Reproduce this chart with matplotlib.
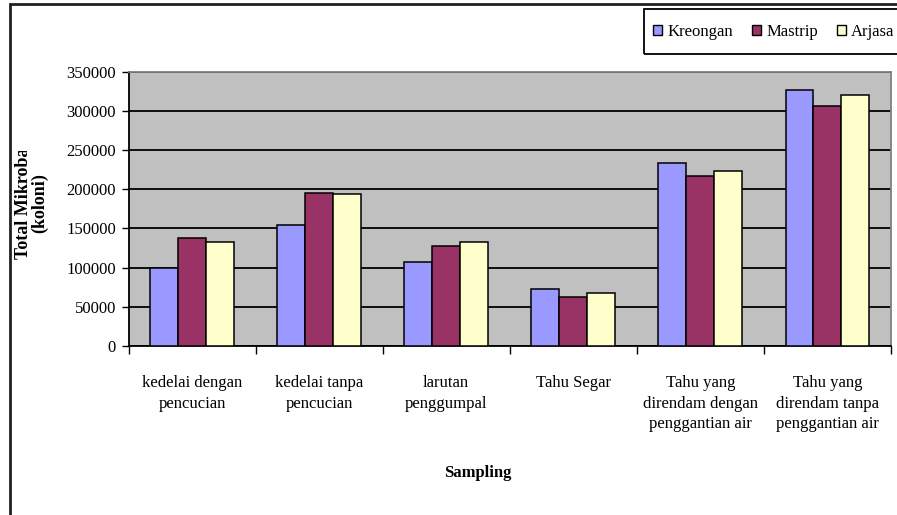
import numpy as np
import matplotlib.pyplot as plt
from matplotlib.patches import Rectangle, Patch
from matplotlib.transforms import Bbox

plt.rcParams["font.family"] = "Liberation Serif"

# Data
categories = [
    "kedelai dengan\npencucian",
    "kedelai tanpa\npencucian",
    "larutan\npenggumpal",
    "Tahu Segar",
    "Tahu yang\ndirendam dengan\npenggantian air",
    "Tahu yang\ndirendam tanpa\npenggantian air",
]
series = ["Kreongan", "Mastrip", "Arjasa"]
kreongan = [100000, 154000, 107000, 73000, 233000, 326000]
mastrip = [138000, 195000, 127000, 63000, 217000, 306000]
arjasa = [133000, 193500, 133000, 67000, 223000, 320000]
yticks = [0, 50000, 100000, 150000, 200000, 250000, 300000, 350000]

colors = ["#9999FF", "#993366", "#FFFFCC"]

W, H = 897, 515
fig = plt.figure(figsize=(W / 100, H / 100), dpi=100)

# plot area in pixel coordinates
left, right, top, bottom = 128.5, 891, 71.5, 346
ax = fig.add_axes([left / W, 1 - bottom / H, (right - left) / W, (bottom - top) / H])
ax.set_facecolor("#C0C0C0")

x = np.arange(len(categories))
bw = 0.22
for i, (vals, c) in enumerate(zip([kreongan, mastrip, arjasa], colors)):
    ax.bar(x + (i - 1) * bw, vals, bw, color=c, edgecolor="black", linewidth=1.1, zorder=3)

ax.set_xlim(-0.5, len(categories) - 0.5)
ax.set_ylim(0, 350000)
ax.set_yticks(yticks)
ax.set_yticklabels([str(v) for v in yticks], fontsize=12)
ax.yaxis.grid(True, color="black", linewidth=1.3, zorder=1)
ax.set_axisbelow(True)

ax.set_xticks(x)
ax.set_xticklabels(categories, fontsize=12, linespacing=1.38, va="top")
ax.set_xticks(np.arange(-0.5, len(categories)), minor=True)
ax.tick_params(axis="x", which="major", length=0, pad=21)
ax.tick_params(axis="x", which="minor", length=6, width=1, color="black", direction="out")
ax.tick_params(axis="y", length=5, width=1, pad=4, direction="out")

for s in ["left", "bottom"]:
    ax.spines[s].set_color("black")
    ax.spines[s].set_linewidth(1.3)
for s in ["top", "right"]:
    ax.spines[s].set_color("#808080")
    ax.spines[s].set_linewidth(1.3)

# outer chart border (continues past the right and bottom edges)
fig.patches.append(Rectangle((9.5 / W, -0.1), 1.2, 1 - 4.5 / H + 0.1,
                             transform=fig.transFigure, fill=False,
                             edgecolor="#202020", linewidth=2, clip_on=False))

# legend box
fig.patches.append(Rectangle((644 / W, 1 - 54 / H), 1.1, 45 / H,
                             transform=fig.transFigure, fill=False,
                             edgecolor="black", linewidth=1.3, clip_on=False))
handles = [Patch(facecolor=c, edgecolor="black", linewidth=1) for c in colors]
fig.legend(handles, series, loc="center left", bbox_to_anchor=(653 / W, 1 - 31.5 / H),
           ncol=3, frameon=False, fontsize=12, handlelength=0.55, handleheight=0.55,
           handletextpad=0.3, columnspacing=1.15, borderpad=0, borderaxespad=0)

fig.text(478 / W, 1 - 473 / H, "Sampling", fontsize=12, fontweight="bold",
         ha="center", va="center")

ylab = fig.text(23 / W, 1 - 203 / H, "Total Mikroba", fontsize=13, fontweight="bold",
                rotation=90, ha="center", va="center")
fig.text(40 / W, 1 - 203 / H, "(koloni)", fontsize=13, fontweight="bold",
         rotation=90, ha="center", va="center")

# the label box is too short, so the end of the first line gets cut off
fig.canvas.draw()
ext = ylab.get_window_extent()
ylab.set_clip_box(Bbox([[0, 0], [W, ext.y1 - 4]]))
ylab.set_clip_on(True)

fig.savefig("out.png", dpi=100)
